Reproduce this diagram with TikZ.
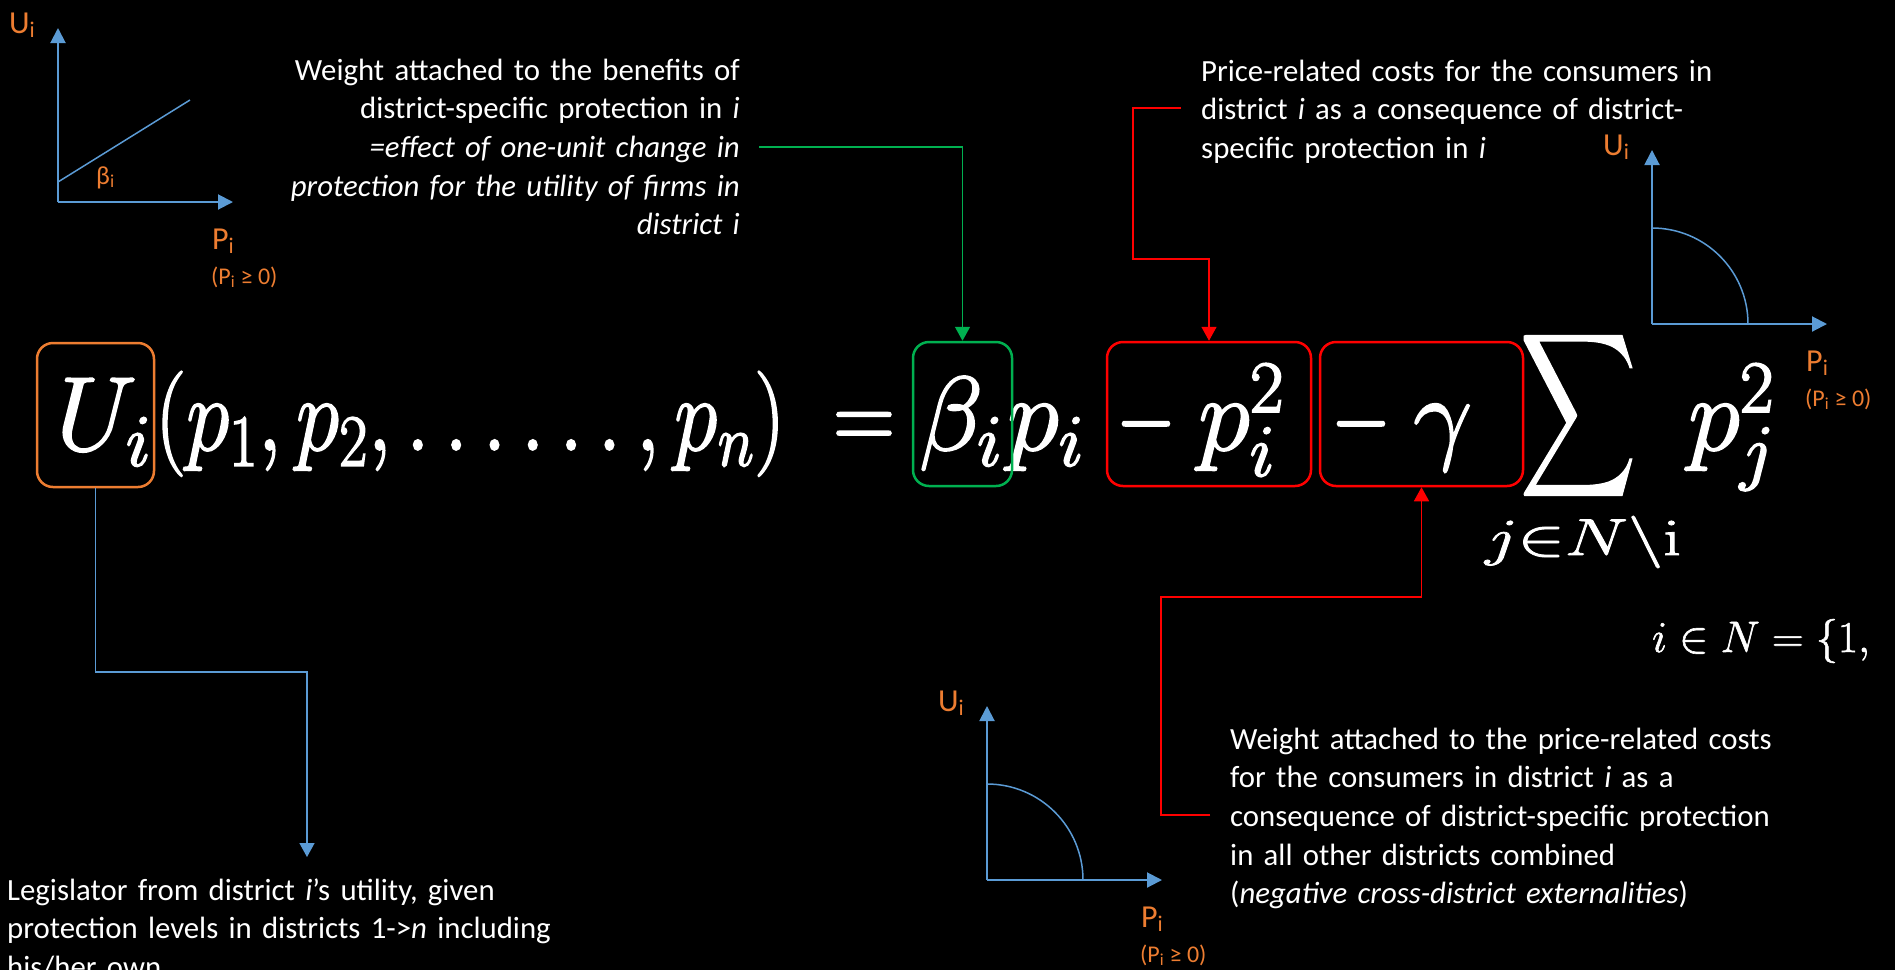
\RequirePackage{fix-cm}
\documentclass[tikz,border=0pt]{standalone}
\usepackage[no-math]{fontspec}
\usepackage{graphicx}
\usetikzlibrary{arrows.meta}
\newfontfamily\calib{Carlito}
\definecolor{ppo}{HTML}{ED7D31}
\definecolor{ppb}{HTML}{5B9BD5}
\definecolor{ppg}{HTML}{00B050}
\definecolor{ppr}{HTML}{FF0000}
\tikzset{
  txt/.style={inner sep=0pt, text=white, font=\calib\fontsize{30.8}{38.7}\selectfont},
  lab/.style={inner sep=0pt, text=ppo, font=\calib\fontsize{32}{36}\selectfont},
  labs/.style={inner sep=0pt, text=ppo, font=\calib\fontsize{24}{28}\selectfont},
  labb/.style={inner sep=0pt, text=ppo, font=\calib\fontsize{26}{30}\selectfont},
  heavy/.style={execute at begin node={\special{pdf:literal direct 2 Tr #1 w 1 1 1 RG}},
                execute at end node={\special{pdf:literal direct 0 Tr}}},
  heavy/.default=1.8,
  eq/.style={inner sep=0pt, text=white, font=\fontsize{105}{120}\selectfont, heavy},
  hl/.style={draw=#1, line width=2.5pt, rounded corners=16pt, inner sep=0pt},
  axis/.style={draw=ppb, line width=2pt, -{Triangle[width=15pt,length=15pt]}},
  curve/.style={draw=ppb, line width=1.5pt},
  conn/.style={draw=#1, line width=1.5pt, -{Triangle[width=15pt,length=14pt]}},
}
\newcommand{\minigraph}[2]{%
  \begin{scope}[shift={#1}]
    \coordinate (O#2) at (0,0);
    \draw[axis] (O#2) -- (0,-174);
    \draw[axis] (O#2) -- (175,0);
    \node[lab, anchor=base west] (LU#2) at (-49,-169) {U\textsubscript{i}};
    \node[lab, anchor=base west] (LP#2) at (154,47) {P\textsubscript{i}};
    \node[labs, anchor=base west] (LQ#2) at (153,82) {(P\textsubscript{i} ≥ 0)};
  \end{scope}}
\begin{document}
\begin{tikzpicture}[x=1pt,y=-1pt]
\fill[black] (0,0) rectangle (1895,970);
\useasboundingbox (0,0) rectangle (1895,970);
\clip (0,0) rectangle (1895,970);

% ---- mini graphs
\minigraph{(58,202)}{a}
\draw[curve] (58,182) -- (190,100);
\node[labb, anchor=base west] (Lbeta) at (96,184) {β\textsubscript{i}};

\minigraph{(1652,324)}{b}
\draw[curve] (1652,228) arc[start angle=-90, end angle=0, radius=96];

\minigraph{(987,880)}{c}
\draw[curve] (987,784) arc[start angle=-90, end angle=0, radius=96];

% ---- equation
\node[eq, anchor=base west] (eU) at (56,450) {$U_i$};
\node[eq, anchor=base west] (eArgs) at (155,450) {\resizebox{630pt}{\height}{$(p_1, p_2, \ldots\ldots, p_n)$}};
\node[eq, anchor=base] (eEq) at (864,450) {\resizebox{62pt}{\height}{$=$}};
\node[eq, anchor=base west] (eB) at (919,450) {$\beta_i$};
\node[eq, anchor=base west] (ePi) at (1007,450) {$p_i$};
\node[eq, anchor=base] (eM1) at (1146,450) {\resizebox{60pt}{\height}{$-$}};
\node[eq, anchor=base west] (eP2) at (1198,450) {$p_i^2$};
\node[eq, anchor=base] (eM2) at (1361,450) {\resizebox{60pt}{\height}{$-$}};
\node[eq, anchor=base west] (eG) at (1413,450) {$\gamma$};
\node[inner sep=0pt, text=white, heavy=0.12] (eS) at (1578,415.5) {\resizebox*{117pt}{183pt}{$\displaystyle\sum$}};
\node[inner sep=0pt, text=white, heavy=0.8, font=\fontsize{52}{60}\selectfont, anchor=base] (eSub) at (1583,555) {\resizebox{196pt}{\height}{$j{\in}N\backslash\mathrm{i}$}};
\node[eq, anchor=base west] (ePj) at (1688,450) {$p_j^2$};
\node[inner sep=0pt, text=white, heavy=0.6, font=\fontsize{44}{50}\selectfont, anchor=base west] (eSet) at (1652,652) {$i \in N = \{1,$};

% ---- highlight boxes
\node[hl=ppo, minimum width=117pt, minimum height=144pt] (bU) at (95.5,415) {};
\node[hl=ppg, minimum width=99pt, minimum height=144pt] (bB) at (962.5,414) {};
\node[hl=ppr, minimum width=204pt, minimum height=144pt] (bR1) at (1209,414) {};
\node[hl=ppr, minimum width=203pt, minimum height=144pt] (bR2) at (1421.5,414) {};

% ---- annotations
\node[txt, anchor=base east, align=right, text width=470pt] (tB) at (740,80)
  {Weight attached to the benefits of\\
   district-specific protection in \textit{i}\\
   \textit{=effect of one-unit change in}\\
   \textit{protection for the utility of firms in}\\
   \textit{district i}};
\node[txt, anchor=base west, align=left, text width=560pt] (tP) at (1201,81)
  {Price-related costs for the consumers in\\
   district \textit{i} as a consequence of district-\\
   specific protection in \textit{i}};
\node[txt, anchor=base west, align=left, text width=600pt] (tG) at (1230,749)
  {Weight attached to the price-related costs\\
   for the consumers in district \textit{i} as a\\
   consequence of district-specific protection\\
   in all other districts combined\\
   (\textit{negative cross-district externalities})};
\node[txt, anchor=base west, align=left, text width=600pt] (tL) at (7,900)
  {Legislator from district \textit{i}’s utility, given\\
   protection levels in districts 1->\textit{n} including\\
   his/her own};

% ---- connectors
\coordinate (cG) at (759,147);
\draw[conn=ppg] (cG) -| (bB.north);
\coordinate (cR1) at (1181,108);
\draw[conn=ppr] (cR1) -- (1133,108) -- (1133,259) -| (bR1.north);
\coordinate (cR2) at (1210,815);
\draw[conn=ppr] (cR2) -- (1161,815) -- (1161,597) -| (bR2.south);
\coordinate (cL) at (307,857);
\draw[conn=ppb] (bU.south) -- (95.5,672) -| (cL);
\end{tikzpicture}
\end{document}
